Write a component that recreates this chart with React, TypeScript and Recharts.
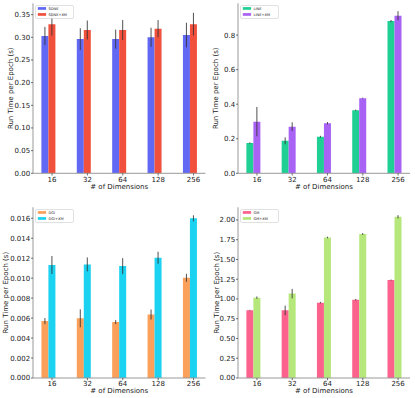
import React from 'react';
import { BarChart, Bar, XAxis, YAxis, ErrorBar, Legend } from 'recharts';

// x categories shared by all four panels
const dims = ['16', '32', '64', '128', '256'];

// SDNE (top-left)
const sdne = [0.303, 0.296, 0.296, 0.3, 0.305];
const sdneErr = [0.02, 0.024, 0.021, 0.021, 0.027];
const sdneXm = [0.329, 0.316, 0.316, 0.319, 0.329];
const sdneXmErr = [0.025, 0.021, 0.022, 0.019, 0.025];
const sdneTicks = [0, 0.05, 0.1, 0.15, 0.2, 0.25, 0.3, 0.35];

// LINE (top-right)
const line = [0.175, 0.188, 0.212, 0.365, 0.881];
const lineErr = [0.004, 0.02, 0.005, 0.004, 0.006];
const lineXm = [0.299, 0.27, 0.29, 0.435, 0.912];
const lineXmErr = [0.085, 0.025, 0.007, 0.003, 0.026];
const lineTicks = [0, 0.2, 0.4, 0.6, 0.8];

// DGI (bottom-left)
const dgi = [0.0057, 0.00598, 0.0056, 0.00636, 0.01004];
const dgiErr = [0.0003, 0.0009, 0.0002, 0.0005, 0.0004];
const dgiXm = [0.01132, 0.01138, 0.01121, 0.01205, 0.016];
const dgiXmErr = [0.0009, 0.0007, 0.0008, 0.0006, 0.0003];
const dgiTicks = [0, 0.002, 0.004, 0.006, 0.008, 0.01, 0.012, 0.014, 0.016];

// GM (bottom-right)
const gm = [0.858, 0.856, 0.953, 0.99, 1.24];
const gmErr = [0.005, 0.06, 0.01, 0.01, 0.006];
const gmXm = [1.017, 1.068, 1.778, 1.822, 2.04];
const gmXmErr = [0.015, 0.06, 0.01, 0.012, 0.02];
const gmTicks = [0, 0.25, 0.5, 0.75, 1.0, 1.25, 1.5, 1.75, 2.0];

const FONT = '"DejaVu Sans", sans-serif';
const SPINE = '#999';
const TEXT = '#222';

interface PanelProps {
  left: number;
  top: number;
  width: number;
  height: number;
  marginTop: number;
  marginRight: number;
  yWidth: number;
  xHeight: number;
  yLabelX: number;
  names: [string, string];
  colors: [string, string];
  a: number[];
  aErr: number[];
  b: number[];
  bErr: number[];
  ticks: number[];
  domain: [number, number];
  digits: number;
}

// tick sits under the second bar of each pair, like the original
const DimTick = (props: any) => {
  const { x, y, payload } = props;
  const shift = payload && payload.offset ? payload.offset * 0.2 : 3.5;
  const tx = x + shift;
  return (
    <g>
      <line x1={tx} y1={y} x2={tx} y2={y + 2.2} stroke="#333" strokeWidth={0.7} />
      <text x={tx} y={y + 8.3} textAnchor="middle" fontSize={7} fill={TEXT} fontFamily={FONT}>
        {payload.value}
      </text>
    </g>
  );
};

const LegendBox = (props: any) => {
  const items = props.payload || [];
  return (
    <svg width={39} height={14} style={{ display: 'block' }}>
      <rect x={0.5} y={0.5} width={38} height={13} rx={1.5} fill="#fff" fillOpacity={0.85} stroke="#ccc" strokeWidth={0.6} />
      {items.map((it: any, i: number) => (
        <g key={i}>
          <rect x={2.8} y={3.4 + i * 6 - 1.3} width={8.3} height={2.7} fill={it.color} />
          <text x={13.4} y={3.4 + i * 6 + 1.3} fontSize={3.6} fill={TEXT} fontFamily={FONT}>
            {it.value}
          </text>
        </g>
      ))}
    </svg>
  );
};

const Panel = (p: PanelProps) => {
  const data = dims.map((d, i) => ({
    dim: d,
    a: p.a[i],
    aErr: p.aErr[i],
    b: p.b[i],
    bErr: p.bErr[i],
  }));

  return (
    <div style={{ position: 'absolute', left: p.left, top: p.top }}>
      <BarChart
        width={p.width}
        height={p.height}
        data={data}
        margin={{ top: p.marginTop, right: p.marginRight, bottom: 0, left: 0 }}
        barCategoryGap="30%"
        barGap={0}
      >
        <XAxis
          dataKey="dim"
          height={p.xHeight}
          padding={{ left: -2.2, right: -2.2 }}
          tickSize={0}
          tickMargin={0}
          tickLine={false}
          axisLine={{ stroke: SPINE, strokeWidth: 1 }}
          tick={(tp: any) => <DimTick {...tp} />}
          interval={0}
          label={{
            content: (lp: any) => {
              const vb = lp.viewBox;
              return (
                <text x={vb.x + vb.width / 2} y={vb.y + 15.2} textAnchor="middle" fontSize={7} fill={TEXT} fontFamily={FONT}>
                  # of Dimensions
                </text>
              );
            },
          }}
        />
        <XAxis xAxisId="top" dataKey="dim" orientation="top" height={0} tick={false} tickLine={false} axisLine={{ stroke: SPINE, strokeWidth: 1 }} />
        <YAxis
          width={p.yWidth}
          domain={p.domain}
          ticks={p.ticks}
          allowDataOverflow
          tickSize={2}
          tickMargin={0.8}
          tickLine={{ stroke: '#333', strokeWidth: 0.7 }}
          axisLine={{ stroke: SPINE, strokeWidth: 1 }}
          tick={{ fontSize: 7, fill: TEXT, fontFamily: FONT }}
          tickFormatter={(v: number) => v.toFixed(p.digits)}
          label={{
            content: (lp: any) => {
              const vb = lp.viewBox;
              const cx = p.yLabelX;
              const cy = vb.y + vb.height / 2;
              return (
                <text
                  x={cx}
                  y={cy}
                  transform={`rotate(-90 ${cx} ${cy})`}
                  textAnchor="middle"
                  dominantBaseline="central"
                  fontSize={7}
                  fill={TEXT}
                  fontFamily={FONT}
                >
                  Run Time per Epoch (s)
                </text>
              );
            },
          }}
        />
        <YAxis yAxisId="right" orientation="right" width={0} tick={false} tickLine={false} axisLine={{ stroke: SPINE, strokeWidth: 1 }} />
        <Legend
          layout="vertical"
          align="center"
          verticalAlign="middle"
          content={(lp: any) => <LegendBox {...lp} />}
          wrapperStyle={{ position: 'absolute', left: p.yWidth + 2, top: p.marginTop + 2, width: 40, height: 15 }}
        />
        <Bar dataKey="a" name={p.names[0]} fill={p.colors[0]} isAnimationActive={false}>
          <ErrorBar dataKey="aErr" width={0} stroke="#333" strokeWidth={1} strokeOpacity={0.85} />
        </Bar>
        <Bar dataKey="b" name={p.names[1]} fill={p.colors[1]} isAnimationActive={false}>
          <ErrorBar dataKey="bErr" width={0} stroke="#333" strokeWidth={1} strokeOpacity={0.85} />
        </Bar>
      </BarChart>
    </div>
  );
};

export default function App() {
  return (
    <div style={{ position: 'absolute', left: 0, top: 0, width: 415, height: 398, background: '#fff', fontFamily: FONT }}>
      <Panel
        left={0} top={0} width={207} height={199}
        marginTop={3.3} marginRight={1.5} yWidth={33} xHeight={25.7} yLabelX={11.5}
        names={['SDNE', 'SDNE+XM']} colors={['#6168f4', '#f0503c']}
        a={sdne} aErr={sdneErr} b={sdneXm} bErr={sdneXmErr}
        ticks={sdneTicks} domain={[0, 0.375]} digits={2}
      />
      <Panel
        left={207} top={0} width={208} height={199}
        marginTop={3.3} marginRight={5} yWidth={31} xHeight={25.7} yLabelX={9.5}
        names={['LINE', 'LINE+XM']} colors={['#1fcf93', '#a862f4']}
        a={line} aErr={lineErr} b={lineXm} bErr={lineXmErr}
        ticks={lineTicks} domain={[0, 0.984]} digits={1}
      />
      <Panel
        left={0} top={199} width={207} height={199}
        marginTop={8.3} marginRight={1.5} yWidth={33} xHeight={20} yLabelX={6}
        names={['DGI', 'DGI+XM']} colors={['#fba05a', '#1bd2f0']}
        a={dgi} aErr={dgiErr} b={dgiXm} bErr={dgiXmErr}
        ticks={dgiTicks} domain={[0, 0.0171]} digits={3}
      />
      <Panel
        left={207} top={199} width={208} height={199}
        marginTop={8.3} marginRight={5} yWidth={31} xHeight={20} yLabelX={10.5}
        names={['GM', 'GM+XM']} colors={['#fb628c', '#b5e77a']}
        a={gm} aErr={gmErr} b={gmXm} bErr={gmXmErr}
        ticks={gmTicks} domain={[0, 2.16]} digits={2}
      />
    </div>
  );
}
